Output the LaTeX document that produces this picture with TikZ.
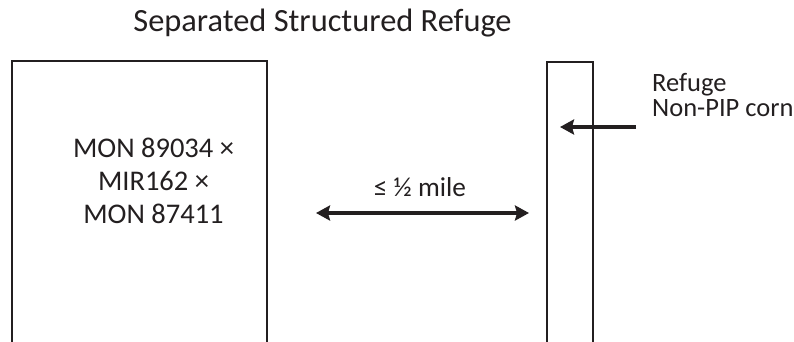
\documentclass[tikz,border=0pt]{standalone}
\usepackage{fontspec}
\setmainfont{Carlito}
\usetikzlibrary{arrows.meta}
\definecolor{ink}{HTML}{231F20}
\begin{document}
\begin{tikzpicture}[x=1pt,y=-1pt,
  field/.style={line width=1.4pt, draw=ink},
  fat/.style={line width=4pt, draw=ink},
  lbl/.style={font=\fontsize{26.5}{33}\selectfont, text=ink, inner sep=0pt, align=center},
  big/.style={font=\fontsize{28.5}{33}\selectfont, text=ink, inner sep=0pt, align=center},
  ttl/.style={font=\fontsize{32.4}{38}\selectfont, text=ink, inner sep=0pt}]
\useasboundingbox (0,0) rectangle (794,341);
% left field (open at the bottom)
\coordinate (LBL) at (12,342);
\coordinate (LTL) at (12,61);
\coordinate (LTR) at (267,61);
\coordinate (LBR) at (267,342);
\draw[field] (LBL) -- (LTL) -- (LTR) -- (LBR);
% refuge strip
\coordinate (RBL) at (547,342);
\coordinate (RTL) at (547,62);
\coordinate (RTR) at (593,62);
\coordinate (RBR) at (593,342);
\draw[field] (RBL) -- (RTL) -- (RTR) -- (RBR);
% texts
\node[ttl, anchor=base] (title) at (322.5,31) {Separated Structured Refuge};
\node[big, anchor=base] (m1) at (153.5,157) {MON 89034 ×};
\node[big, anchor=base] (m2) at (153.5,190) {MIR162 ×};
\node[big, anchor=base] (m3) at (153.5,223) {MON 87411};
\node[lbl, font=\fontsize{27.3}{33}\selectfont, anchor=base] (dist) at (420,196.5) {≤ ½ mile};
\node[lbl, anchor=base west] (ref1) at (652,91) {Refuge};
\node[lbl, anchor=base west] (ref2) at (652,116.5) {Non-PIP corn};
% arrows
\coordinate (dA) at (316,213);
\coordinate (dB) at (529,213);
\draw[fat, {Stealth[length=14pt,width=15pt,inset=2pt]}-{Stealth[length=14pt,width=15pt,inset=2pt]}] (dA) -- (dB);
\coordinate (rA) at (636,127);
\coordinate (rB) at (560,127);
\draw[fat, -{Stealth[length=14pt,width=15pt,inset=2pt]}] (rA) -- (rB);
\end{tikzpicture}
\end{document}
